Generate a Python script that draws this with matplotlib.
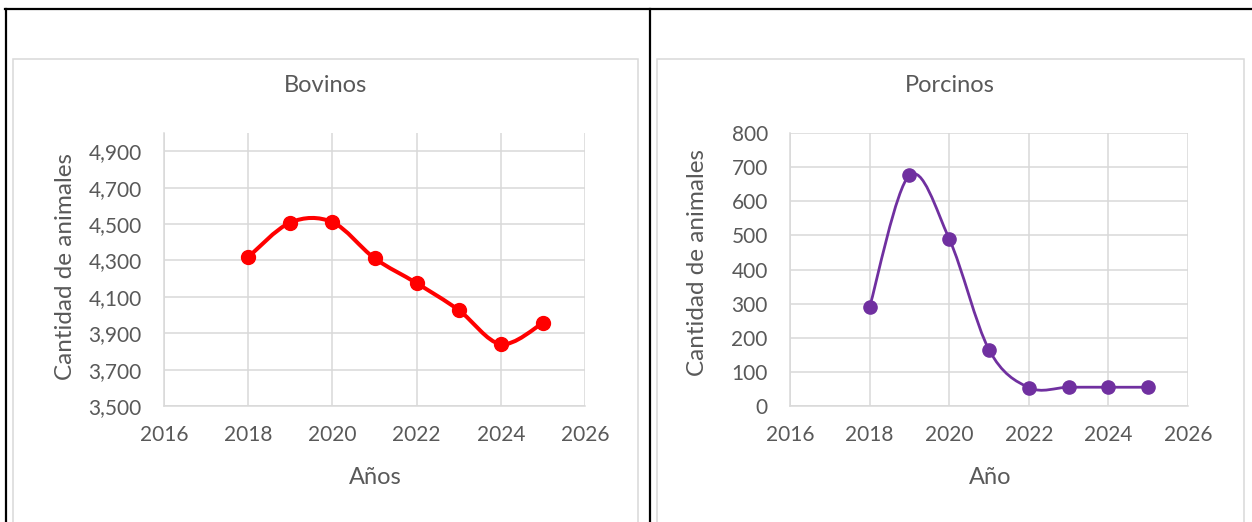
import matplotlib
matplotlib.use("Agg")
import matplotlib.pyplot as plt
from matplotlib.path import Path
from matplotlib.patches import PathPatch, Rectangle
from matplotlib.lines import Line2D
from matplotlib.ticker import MultipleLocator, StrMethodFormatter

plt.rcParams['font.family'] = ['Lato', 'DejaVu Sans']

# Datos
years = [2018, 2019, 2020, 2021, 2022, 2023, 2024, 2025]
bovinos = [4318, 4508, 4510, 4312, 4175, 4027, 3840, 3956]
porcinos = [290, 676, 490, 165, 54, 55, 55, 55]

W, H = 1252, 522
TEXT = '#595959'
GRID = '#D9D9D9'


def fx(x):
    return x / W


def fy(y):
    return 1 - y / H


def smooth_path(x, y):
    """Curva suavizada tipo Excel (Catmull-Rom como Bezier cubica)."""
    n = len(x)
    verts = [(x[0], y[0])]
    codes = [Path.MOVETO]
    for i in range(n - 1):
        i0 = max(i - 1, 0)
        i3 = min(i + 2, n - 1)
        c1 = (x[i] + (x[i + 1] - x[i0]) / 6, y[i] + (y[i + 1] - y[i0]) / 6)
        c2 = (x[i + 1] - (x[i3] - x[i]) / 6, y[i + 1] - (y[i3] - y[i]) / 6)
        verts += [c1, c2, (x[i + 1], y[i + 1])]
        codes += [Path.CURVE4] * 3
    return Path(verts, codes)


def style_axes(ax):
    ax.set_xlim(2016, 2026)
    ax.xaxis.set_major_locator(MultipleLocator(2))
    ax.grid(True, color=GRID, linewidth=1.1)
    ax.set_axisbelow(True)
    for side in ['top', 'right']:
        ax.spines[side].set_visible(False)
    for side in ['left', 'bottom']:
        ax.spines[side].set_color(GRID)
        ax.spines[side].set_linewidth(1.1)
    ax.tick_params(length=0, labelsize=15, colors=TEXT)
    ax.tick_params(axis='y', pad=16)
    ax.tick_params(axis='x', pad=14)


fig = plt.figure(figsize=(W / 100, H / 100), dpi=100)

# marco de la tabla
fig.add_artist(Line2D([fx(5), fx(W)], [fy(9), fy(9)], color='black', lw=1.6, transform=fig.transFigure))
fig.add_artist(Line2D([fx(6), fx(6)], [fy(9), fy(H)], color='black', lw=1.6, transform=fig.transFigure))
fig.add_artist(Line2D([fx(650), fx(650)], [fy(9), fy(H)], color='black', lw=1.6, transform=fig.transFigure))

# marcos de los graficos
for x0, x1 in [(13, 638), (657, 1244)]:
    fig.add_artist(Rectangle((fx(x0), fy(530)), fx(x1 - x0), (530 - 59) / H, fill=False,
                             edgecolor=GRID, lw=1.1, transform=fig.transFigure))

# Bovinos
ax1 = fig.add_axes([fx(164), fy(406), fx(585 - 164), (406 - 133) / H])
style_axes(ax1)
ax1.set_ylim(3500, 5000)
ax1.set_yticks(range(3500, 5000, 200))
ax1.yaxis.set_major_formatter(StrMethodFormatter('{x:,.0f}'))
ax1.add_patch(PathPatch(smooth_path(years, bovinos), fill=False, edgecolor='#FF0000', lw=2.9))
ax1.plot(years, bovinos, 'o', color='#FF0000', markersize=10)

# Porcinos
ax2 = fig.add_axes([fx(790), fy(406), fx(1188 - 790), (406 - 133) / H])
style_axes(ax2)
ax2.set_ylim(0, 800)
ax2.yaxis.set_major_locator(MultipleLocator(100))
ax2.add_patch(PathPatch(smooth_path(years, porcinos), fill=False, edgecolor='#7030A0', lw=2.0))
ax2.plot(years, porcinos, 'o', color='#7030A0', markersize=9.5)

# titulos y etiquetas
fig.text(fx(325), fy(85), 'Bovinos', ha='center', va='center', fontsize=17, color=TEXT)
fig.text(fx(950), fy(85), 'Porcinos', ha='center', va='center', fontsize=17, color=TEXT)
fig.text(fx(375), fy(477), 'Años', ha='center', va='center', fontsize=17, color=TEXT)
fig.text(fx(990), fy(477), 'Año', ha='center', va='center', fontsize=17, color=TEXT)
fig.text(fx(65), fy(267), 'Cantidad de animales', ha='center', va='center', rotation=90,
         fontsize=17.5, color=TEXT)
fig.text(fx(697), fy(262), 'Cantidad de animales', ha='center', va='center', rotation=90,
         fontsize=17.5, color=TEXT)

fig.savefig('out.png', dpi=100)
